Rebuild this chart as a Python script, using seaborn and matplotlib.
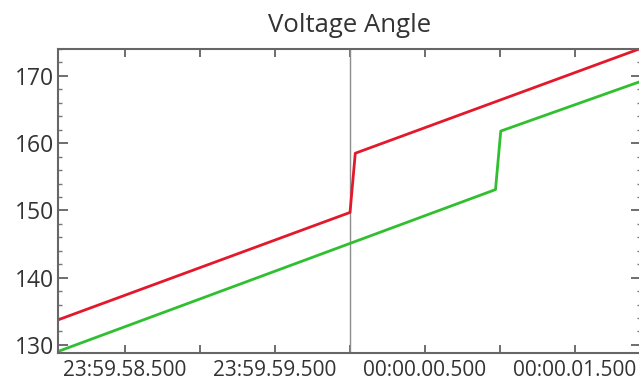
import numpy as np
import pandas as pd
import matplotlib
matplotlib.use("Agg")
import matplotlib.pyplot as plt
import seaborn as sns
from matplotlib.ticker import MultipleLocator, FixedLocator

# Data (time in seconds relative to 00:00:00.000)
red_t = [-1.95, 0.0, 0.035, 1.94]
red_v = [133.7, 149.7, 158.5, 174.1]
green_t = [-1.95, 0.97, 1.005, 1.94]
green_v = [129.0, 153.1, 161.8, 169.2]

tick_pos = [-1.5, -1.0, -0.5, 0.0, 0.5, 1.0, 1.5]
tick_labels = ["23:59.58.500", "", "23:59.59.500", "", "00:00.00.500", "", "00:00.01.500"]
marker_t = 0.0

sns.set_theme(style="white")
plt.rcParams['font.family'] = ['Open Sans', 'DejaVu Sans']

fig = plt.figure(figsize=(6.39, 3.87), dpi=100)
ax = fig.add_axes([58/639, 1-353/387, 583/639, (353-49)/387])

df = pd.concat([
    pd.DataFrame({"t": red_t, "v": red_v, "s": "A"}),
    pd.DataFrame({"t": green_t, "v": green_v, "s": "B"}),
])
sns.lineplot(data=df, x="t", y="v", hue="s", palette={"A": "#e3192b", "B": "#2fbf2f"},
             linewidth=2.0, ax=ax, legend=False, sort=False, estimator=None)
ax.axvline(marker_t, color="#8c8c8c", linewidth=1.0, zorder=1)

ax.set_xlim(-1.947, 1.94)
ax.set_ylim(128.8, 174.0)
ax.set_xlabel("")
ax.set_ylabel("")
ax.set_title("Voltage Angle", fontsize=18.5, color="#333333", pad=12)

ax.xaxis.set_major_locator(FixedLocator(tick_pos))
ax.set_xticklabels(tick_labels)
ax.yaxis.set_major_locator(MultipleLocator(10))
ax.yaxis.set_minor_locator(MultipleLocator(2))
ax.tick_params(axis="x", which="major", direction="in", length=6, width=1.2,
               top=True, bottom=True, labelsize=15, colors="#555555",
               labelcolor="#333333", pad=5)
ax.tick_params(axis="y", which="major", direction="in", length=7, width=1.2,
               left=True, right=True, labelsize=16.5, colors="#555555",
               labelcolor="#333333", pad=3)
ax.tick_params(axis="y", which="minor", direction="in", length=3, width=1.0,
               left=True, right=True, colors="#777777")
for sp in ax.spines.values():
    sp.set_color("#666666")
    sp.set_linewidth(1.5)

fig.savefig("out.png", dpi=100)
